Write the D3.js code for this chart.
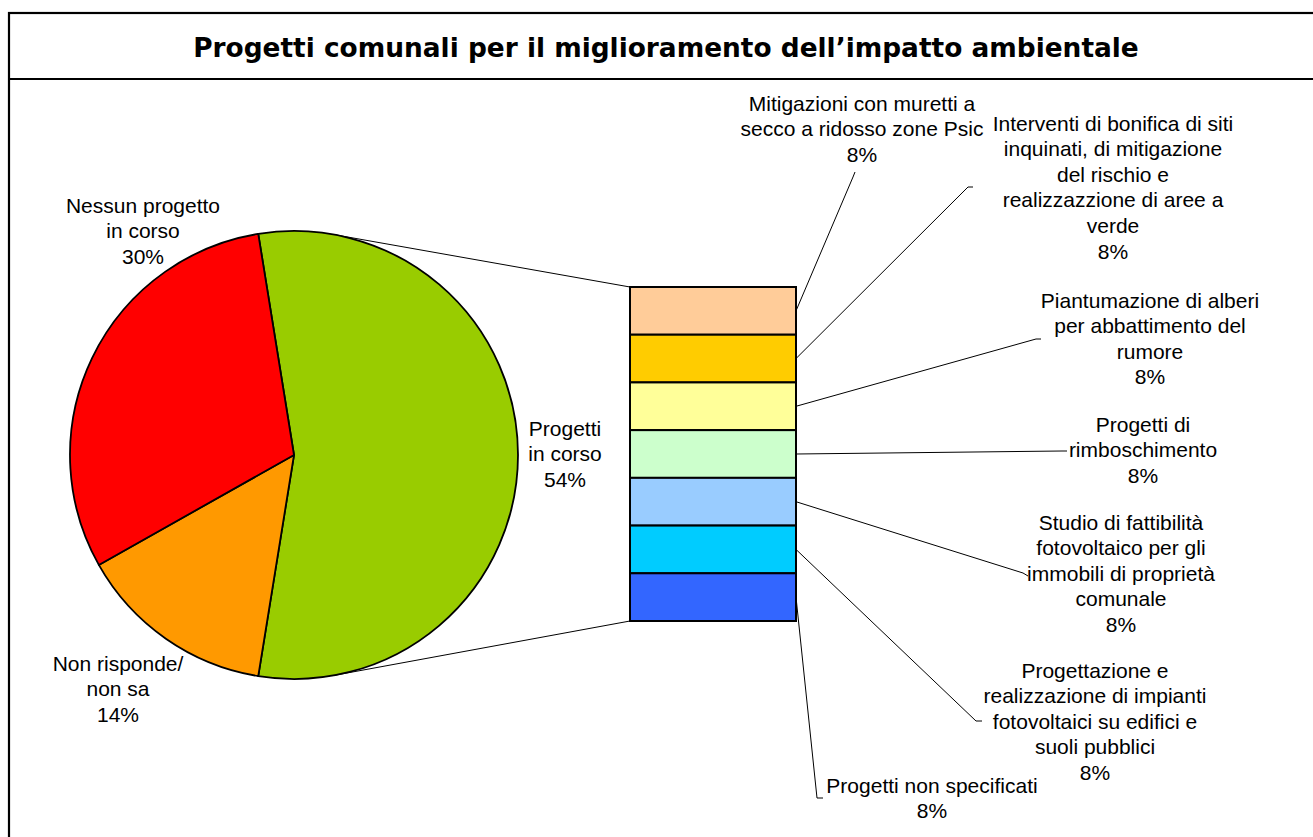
<!DOCTYPE html>
<html>
<head>
<meta charset="utf-8">
<script src="https://cdn.jsdelivr.net/npm/d3@7"></script>
<style>
  html, body { margin: 0; padding: 0; background: #fff; overflow: hidden; }
  svg { display: block; }
</style>
</head>
<body>
<svg id="chart" width="1313" height="837"></svg>
<script>
// ---- data ----
const title = "Progetti comunali per il miglioramento dell\u2019impatto ambientale";

const pieLabels = [["Progetti", "in corso"], ["Non risponde/", "non sa"], ["Nessun progetto", "in corso"]];
const pieValues = [54, 14, 30];
const pieColors = ["#99CC00", "#FF9900", "#FF0000"];

const barLabels = [
  ["Mitigazioni con muretti a", "secco a ridosso zone Psic"],
  ["Interventi di bonifica di siti", "inquinati, di mitigazione", "del rischio e", "realizzazzione di aree a", "verde"],
  ["Piantumazione di alberi", "per abbattimento del", "rumore"],
  ["Progetti di", "rimboschimento"],
  ["Studio di fattibilità", "fotovoltaico per gli", "immobili di proprietà", "comunale"],
  ["Progettazione e", "realizzazione di impianti", "fotovoltaici su edifici e", "suoli pubblici"],
  ["Progetti non specificati"]
];
const barValues = [8, 8, 8, 8, 8, 8, 8];
const barColors = ["#FFCC99", "#FFCC00", "#FFFF99", "#CCFFCC", "#99CCFF", "#00CCFF", "#3366FF"];

// ---- layout ----
const W = 1313, H = 837;
const pieCx = 294, pieCy = 455, pieR = 224;
const barX0 = 630, barX1 = 796, barY0 = 287, barY1 = 621;
const lineH = 25.6;
const fontLabel = "Liberation Sans, Arial, sans-serif";

// label placement for the pie slices: text centre x, centre y of first line
const pieLabelPos = [
  { x: 565, y: 428 },
  { x: 118, y: 663 },
  { x: 143, y: 205 }
];
// label placement for the bar segments, with the end of each leader line
const barLabelPos = [
  { x: 862,  y: 103, lead: [[853, 177], [855, 172]] },
  { x: 1113, y: 123, lead: [[968, 187], [973, 187]] },
  { x: 1150, y: 300, lead: [[1036, 339], [1041, 339]] },
  { x: 1143, y: 424, lead: [[1062, 451], [1067, 451]] },
  { x: 1121, y: 522, lead: [[1023, 573], [1028, 576]] },
  { x: 1095, y: 670, lead: [[976, 721], [982, 721]] },
  { x: 932,  y: 785, lead: [[817, 798], [823, 798]] }
];

const svg = d3.select("#chart");

// frame and title box
svg.append("rect")
  .attr("x", 9).attr("y", 13).attr("width", W + 20).attr("height", H + 20)
  .attr("fill", "none").attr("stroke", "#000").attr("stroke-width", 2.2);
svg.append("line")
  .attr("x1", 9).attr("x2", W + 10).attr("y1", 79).attr("y2", 79)
  .attr("stroke", "#000").attr("stroke-width", 2.2);
svg.append("text")
  .attr("x", 666).attr("y", 47).attr("dy", "0.36em")
  .attr("text-anchor", "middle")
  .style("font-family", "DejaVu Sans, Verdana, sans-serif")
  .style("font-weight", "bold").style("font-size", "26.4px")
  .text(title);

// ---- connector lines from bar corners, tangent to the pie ----
function tangentPoint(px, py, sign) {
  const dx = px - pieCx, dy = py - pieCy;
  const d = Math.hypot(dx, dy);
  const phi = Math.atan2(dy, dx) + sign * Math.acos(pieR / d);
  return [pieCx + pieR * Math.cos(phi), pieCy + pieR * Math.sin(phi)];
}
const yBar = d3.scaleLinear().domain([0, d3.sum(barValues)]).range([barY0, barY1]);

const conn = svg.append("g").attr("stroke", "#000").attr("stroke-width", 1).attr("fill", "none");
[[barX0, yBar(0), -1], [barX0, yBar(d3.sum(barValues)), 1]].forEach(([x, y, s]) => {
  const t = tangentPoint(x, y, s);
  conn.append("line").attr("x1", t[0]).attr("y1", t[1]).attr("x2", x).attr("y2", y);
});

// ---- pie ----
const total = d3.sum(pieValues);
const greenSpan = pieValues[0] / total * 2 * Math.PI;
const pie = d3.pie().sort(null).value(d => d)
  .startAngle(Math.PI / 2 - greenSpan / 2)
  .endAngle(Math.PI / 2 - greenSpan / 2 + 2 * Math.PI);
const arc = d3.arc().innerRadius(0).outerRadius(pieR);

const pg = svg.append("g").attr("transform", `translate(${pieCx},${pieCy})`);
pg.selectAll("path").data(pie(pieValues)).join("path")
  .attr("d", arc)
  .attr("fill", (d, i) => pieColors[i])
  .attr("stroke", "#000").attr("stroke-width", 1.8).attr("stroke-linejoin", "round");

// pie labels
pieLabels.forEach((lines, i) => {
  const t = svg.append("text")
    .attr("text-anchor", "middle")
    .style("font-family", fontLabel).style("font-size", "21px").attr("fill", "#000");
  lines.concat([pieValues[i] + "%"]).forEach((s, k) => {
    t.append("tspan").attr("x", pieLabelPos[i].x)
      .attr("y", pieLabelPos[i].y + k * lineH).attr("dy", "0.36em").text(s);
  });
});

// ---- bar of pie ----
const stack = [];
let acc = 0;
barValues.forEach(v => { stack.push([acc, acc + v]); acc += v; });

svg.append("g").selectAll("rect").data(stack).join("rect")
  .attr("x", barX0).attr("width", barX1 - barX0)
  .attr("y", d => yBar(d[0])).attr("height", d => yBar(d[1]) - yBar(d[0]))
  .attr("fill", (d, i) => barColors[i])
  .attr("stroke", "#000").attr("stroke-width", 2);

// leader lines
const lead = svg.append("g").attr("stroke", "#000").attr("stroke-width", 1).attr("fill", "none");
stack.forEach((d, i) => {
  const start = [barX1, yBar((d[0] + d[1]) / 2)];
  lead.append("path").attr("d", d3.line()([start].concat(barLabelPos[i].lead)));
});

// bar labels
barLabels.forEach((lines, i) => {
  const t = svg.append("text")
    .attr("text-anchor", "middle")
    .style("font-family", fontLabel).style("font-size", "21px").attr("fill", "#000");
  lines.concat([barValues[i] + "%"]).forEach((s, k) => {
    t.append("tspan").attr("x", barLabelPos[i].x)
      .attr("y", barLabelPos[i].y + k * lineH).attr("dy", "0.36em").text(s);
  });
});
</script>
</body>
</html>
